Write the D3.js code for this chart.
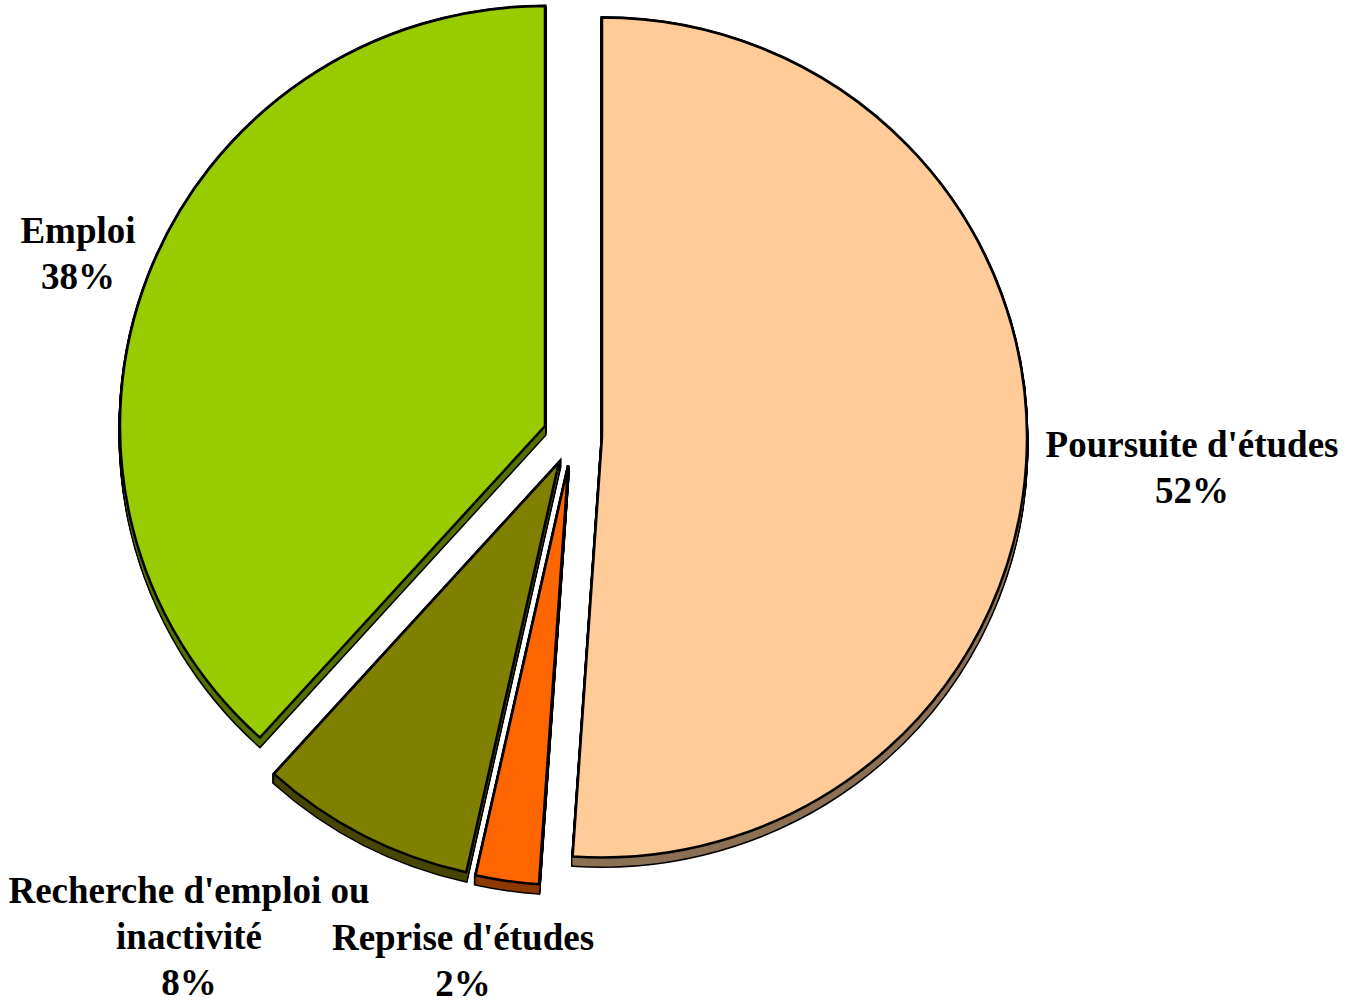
<!DOCTYPE html>
<html>
<head>
<meta charset="utf-8">
<script src="https://cdn.jsdelivr.net/npm/d3@7"></script>
<style>
  html, body { margin: 0; padding: 0; background: #fff; }
  svg { display: block; }
  .lbl { font-family: "Liberation Serif", "Times New Roman", serif; font-weight: bold; font-size: 37px; fill: #000; }
</style>
</head>
<body>
<svg id="chart" width="1352" height="1003"></svg>
<script>
// slices, clockwise from 12 o'clock
var categories = ["Poursuite d'études", "Reprise d'études", "Recherche d'emploi ou\ninactivité", "Emploi"]
var shares = [51.1, 2.4, 8.2, 38.3]
var pctLabels = ['52%', '2%', '8%', '38%']
var colors = ['#FFCC99', '#FF6600', '#808000', '#99CC00']

// label anchors (center x, first baseline)
var labelAnchors = [[1192, 457], [463, 950], [189, 903], [78, 243]]

var width = 1352
var height = 1003
var cx = 572.5
var cy = 436.5
var rx = 425
var ry = 420
var explode = 29.5
var depth = 9
var k = ry / rx
var lineH = 46

var svg = d3.select('#chart')

var pie = d3.pie()
  .sort(null)
  .value(d => d)

var arc = d3.arc()
  .innerRadius(0)
  .outerRadius(rx)

var slices = pie(shares)

function place(d, t) {
  var m = (d.startAngle + d.endAngle) / 2
  var ox = Math.sin(m) * explode
  var oy = -Math.cos(m) * explode * k
  return `translate(${cx + ox},${cy + oy + t}) scale(1,${k})`
}

var steps = d3.range(0, depth + 1)

// black silhouette of the extruded body
var sil = svg.append('g').attr('class', 'silhouette')
slices.forEach(function(d) {
  steps.forEach(function(t) {
    sil.append('path')
      .attr('d', arc(d))
      .attr('transform', place(d, t))
      .attr('fill', '#000')
      .attr('stroke', '#000')
      .attr('stroke-width', 3)
      .attr('vector-effect', 'non-scaling-stroke')
  })
})

// darker side faces
var body = svg.append('g').attr('class', 'body')
slices.forEach(function(d, i) {
  var dark = d3.rgb(colors[i])
  dark = d3.rgb(dark.r * 0.55, dark.g * 0.55, dark.b * 0.55)
  steps.slice(1).forEach(function(t) {
    body.append('path')
      .attr('d', arc(d))
      .attr('transform', place(d, t))
      .attr('fill', dark)
  })
})

// top faces
svg.append('g')
  .attr('class', 'tops')
  .selectAll('path')
  .data(slices)
  .join('path')
  .attr('d', arc)
  .attr('transform', d => place(d, 0))
  .attr('fill', (d, i) => colors[i])
  .attr('stroke', '#000')
  .attr('stroke-width', 2.5)
  .attr('stroke-linejoin', 'miter')
  .attr('vector-effect', 'non-scaling-stroke')

// labels
var labels = svg.append('g').attr('class', 'labels')
categories.forEach(function(c, i) {
  var lines = c.split('\n').concat([pctLabels[i]])
  var txt = labels.append('text')
    .attr('class', 'lbl')
    .attr('text-anchor', 'middle')
  lines.forEach(function(l, j) {
    txt.append('tspan')
      .attr('x', labelAnchors[i][0])
      .attr('y', labelAnchors[i][1] + j * lineH)
      .text(l)
  })
})
</script>
</body>
</html>
